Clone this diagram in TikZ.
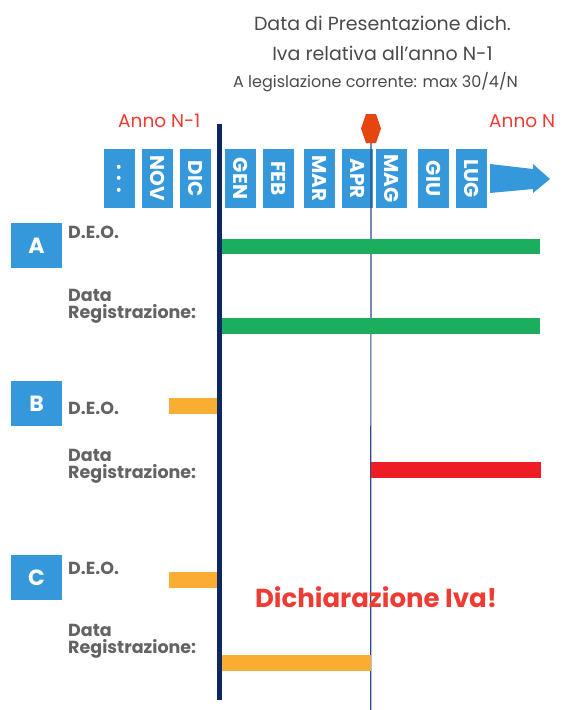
\documentclass[tikz,border=0pt]{standalone}
\usepackage{fontspec}
\setmainfont{Poppins}
\definecolor{boxblue}{HTML}{3598DB}
\definecolor{navy}{HTML}{0B2860}
\definecolor{thinblue}{HTML}{2C4A8C}
\definecolor{barGreen}{HTML}{1AAE5E}
\definecolor{barOrange}{HTML}{F9AE33}
\definecolor{barRed}{HTML}{EE1C25}
\definecolor{txtRed}{HTML}{EF3B33}
\definecolor{hexRed}{HTML}{E64512}
\definecolor{titleGray}{HTML}{4A4A4A}
\definecolor{labGray}{HTML}{636363}
\tikzset{
  month/.style={fill=boxblue, minimum width=31pt, minimum height=59pt, inner sep=0pt},
  monthtxt/.style={text=white, font=\fontsize{20}{20}\selectfont\bfseries, rotate=-90, inner sep=0pt},
  letterbox/.style={fill=boxblue, minimum width=51pt, minimum height=45pt, inner sep=0pt, text=white, font=\fontsize{22}{22}\selectfont\bfseries},
  lab/.style={text=labGray, font=\fontsize{17.5}{17}\selectfont\bfseries, anchor=base west, inner sep=0pt, align=left},
  title/.style={text=titleGray, font=\fontsize{19}{19}\selectfont, anchor=base, inner sep=0pt},
  anno/.style={text=txtRed, font=\fontsize{18.5}{19}\selectfont, anchor=base west, inner sep=0pt},
}
\begin{document}
\begin{tikzpicture}[x=1pt,y=-1pt]
\useasboundingbox (0,0) rectangle (564,710);
% titles
\node[title] (t1) at (382.5,30) {Data di Presentazione dich.};
\node[title] (t2) at (382.5,60) {Iva relativa all’anno N-1};
\node[title, font=\fontsize{16}{16}\selectfont] (t3) at (375.5,87) {A legislazione corrente: max 30/4/N};
\node[anno] (an1) at (118,127) {Anno N-1};
\node[anno] (an2) at (489,127) {Anno N};
% month boxes
\foreach \nm/\cx/\tx in {m0/119.5/{.\hspace{6pt}.\hspace{6pt}.},m1/157.5/NOV,m2/195.5/DIC,m3/240.5/GEN,m4/278.5/FEB,m5/319.5/MAR,m6/357.5/APR,m7/391.5/MAG,m8/433.5/GIU,m9/471.5/LUG}{
  \node[month] (\nm) at (\cx,178.5) {};
  \node[monthtxt] at (\nm.center) {\tx};
}
% arrow
\fill[boxblue] (490,164) -- (533,169) -- (533,164) -- (550,179) -- (533,193) -- (533,189) -- (490,193) -- cycle;
% vertical lines
\coordinate (thickTop) at (219.5,124);
\coordinate (thickBot) at (219.5,700);
\draw[navy, line width=5pt] (thickTop) -- (thickBot);
\coordinate (hexC) at (371,128.5);
\coordinate (thinBot) at (370.7,710);
\draw[thinblue, line width=1.2pt] (hexC) -- (thinBot);
\fill[hexRed] (366,114) -- (376,114) -- (381,128.5) -- (376,143) -- (366,143) -- (361,128.5) -- cycle;
% letter boxes
\node[letterbox] (A) at (36.5,245.5) {A};
\node[letterbox] (B) at (36.5,403.5) {B};
\node[letterbox] (C) at (36.5,577.5) {C};
% labels
\node[lab] (deoA) at (68,238) {D.E.O.};
\node[lab] (regA) at (68,318) {Data\\Registrazione:};
\node[lab] (deoB) at (68,414) {D.E.O.};
\node[lab] (regB) at (68,478) {Data\\Registrazione:};
\node[lab] (deoC) at (68,574) {D.E.O.};
\node[lab] (regC) at (68,653) {Data\\Registrazione:};
% bars
\fill[barGreen] (222,239) rectangle (540,254);
\fill[barGreen] (222,318) rectangle (540,334);
\fill[barOrange] (169,398) rectangle (217,414);
\fill[barRed] (371,462) rectangle (541,478);
\fill[barOrange] (169,572) rectangle (217,588);
\fill[barOrange] (222,655) rectangle (371,671);
% big label
\node[text=txtRed, font=\fontsize{26}{26}\selectfont\bfseries, anchor=base, inner sep=0pt] (dich) at (376,607) {Dichiarazione Iva!};
\end{tikzpicture}
\end{document}
